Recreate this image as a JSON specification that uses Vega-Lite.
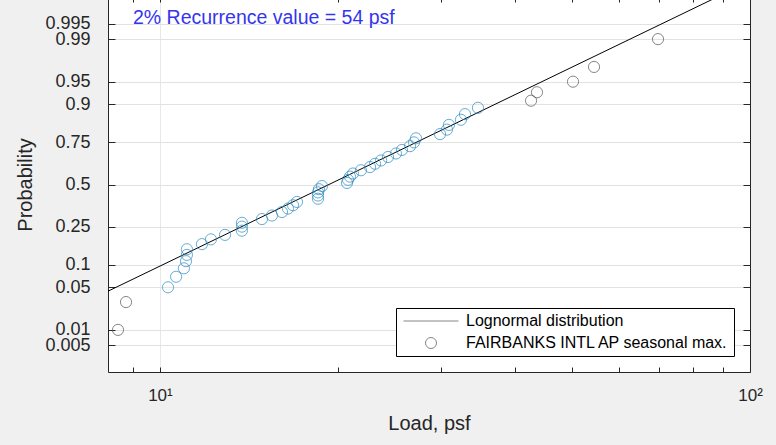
{
  "$schema": "https://vega.github.io/schema/vega-lite/v6.json",
  "width": 642,
  "height": 375,
  "autosize": "none",
  "padding": {"left": 108, "top": -3, "right": 26, "bottom": 73},
  "background": "#f0f0f0",
  "view": {"fill": "white", "stroke": null},
  "config": {"font": "Liberation Sans"},
  "datasets": {
    "fit": [
      {"load": 8.165, "z": -1.707},
      {"load": 100, "z": 3.253}
    ],
    "obs": [
      {"load": 8.49, "z": -2.326, "series": "FAIRBANKS INTL AP seasonal max."},
      {"load": 8.76, "z": -1.881, "series": "FAIRBANKS INTL AP seasonal max."},
      {"load": 10.32, "z": -1.645, "series": "FAIRBANKS INTL AP seasonal max."},
      {"load": 10.65, "z": -1.476, "series": "FAIRBANKS INTL AP seasonal max."},
      {"load": 10.98, "z": -1.341, "series": "FAIRBANKS INTL AP seasonal max."},
      {"load": 11.07, "z": -1.227, "series": "FAIRBANKS INTL AP seasonal max."},
      {"load": 11.11, "z": -1.126, "series": "FAIRBANKS INTL AP seasonal max."},
      {"load": 11.11, "z": -1.036, "series": "FAIRBANKS INTL AP seasonal max."},
      {"load": 11.78, "z": -0.954, "series": "FAIRBANKS INTL AP seasonal max."},
      {"load": 12.2, "z": -0.878, "series": "FAIRBANKS INTL AP seasonal max."},
      {"load": 12.89, "z": -0.806, "series": "FAIRBANKS INTL AP seasonal max."},
      {"load": 13.77, "z": -0.739, "series": "FAIRBANKS INTL AP seasonal max."},
      {"load": 13.77, "z": -0.674, "series": "FAIRBANKS INTL AP seasonal max."},
      {"load": 13.77, "z": -0.613, "series": "FAIRBANKS INTL AP seasonal max."},
      {"load": 14.89, "z": -0.553, "series": "FAIRBANKS INTL AP seasonal max."},
      {"load": 15.48, "z": -0.496, "series": "FAIRBANKS INTL AP seasonal max."},
      {"load": 16.1, "z": -0.44, "series": "FAIRBANKS INTL AP seasonal max."},
      {"load": 16.48, "z": -0.385, "series": "FAIRBANKS INTL AP seasonal max."},
      {"load": 16.81, "z": -0.332, "series": "FAIRBANKS INTL AP seasonal max."},
      {"load": 17.07, "z": -0.279, "series": "FAIRBANKS INTL AP seasonal max."},
      {"load": 18.53, "z": -0.228, "series": "FAIRBANKS INTL AP seasonal max."},
      {"load": 18.53, "z": -0.176, "series": "FAIRBANKS INTL AP seasonal max."},
      {"load": 18.53, "z": -0.126, "series": "FAIRBANKS INTL AP seasonal max."},
      {"load": 18.6, "z": -0.075, "series": "FAIRBANKS INTL AP seasonal max."},
      {"load": 18.82, "z": -0.025, "series": "FAIRBANKS INTL AP seasonal max."},
      {"load": 20.75, "z": 0.025, "series": "FAIRBANKS INTL AP seasonal max."},
      {"load": 20.83, "z": 0.075, "series": "FAIRBANKS INTL AP seasonal max."},
      {"load": 20.99, "z": 0.126, "series": "FAIRBANKS INTL AP seasonal max."},
      {"load": 21.24, "z": 0.176, "series": "FAIRBANKS INTL AP seasonal max."},
      {"load": 21.91, "z": 0.228, "series": "FAIRBANKS INTL AP seasonal max."},
      {"load": 22.7, "z": 0.279, "series": "FAIRBANKS INTL AP seasonal max."},
      {"load": 23.15, "z": 0.332, "series": "FAIRBANKS INTL AP seasonal max."},
      {"load": 23.7, "z": 0.385, "series": "FAIRBANKS INTL AP seasonal max."},
      {"load": 24.35, "z": 0.44, "series": "FAIRBANKS INTL AP seasonal max."},
      {"load": 25.12, "z": 0.496, "series": "FAIRBANKS INTL AP seasonal max."},
      {"load": 25.71, "z": 0.553, "series": "FAIRBANKS INTL AP seasonal max."},
      {"load": 26.53, "z": 0.613, "series": "FAIRBANKS INTL AP seasonal max."},
      {"load": 26.95, "z": 0.674, "series": "FAIRBANKS INTL AP seasonal max."},
      {"load": 27.16, "z": 0.739, "series": "FAIRBANKS INTL AP seasonal max."},
      {"load": 29.83, "z": 0.806, "series": "FAIRBANKS INTL AP seasonal max."},
      {"load": 30.65, "z": 0.878, "series": "FAIRBANKS INTL AP seasonal max."},
      {"load": 30.89, "z": 0.954, "series": "FAIRBANKS INTL AP seasonal max."},
      {"load": 32.37, "z": 1.036, "series": "FAIRBANKS INTL AP seasonal max."},
      {"load": 32.88, "z": 1.126, "series": "FAIRBANKS INTL AP seasonal max."},
      {"load": 34.59, "z": 1.227, "series": "FAIRBANKS INTL AP seasonal max."},
      {"load": 42.55, "z": 1.341, "series": "FAIRBANKS INTL AP seasonal max."},
      {"load": 43.55, "z": 1.476, "series": "FAIRBANKS INTL AP seasonal max."},
      {"load": 50.12, "z": 1.645, "series": "FAIRBANKS INTL AP seasonal max."},
      {"load": 54.41, "z": 1.881, "series": "FAIRBANKS INTL AP seasonal max."},
      {"load": 69.84, "z": 2.326, "series": "FAIRBANKS INTL AP seasonal max."}
    ],
    "note": [
      {"load": 9.0, "z": 2.576, "label": "2% Recurrence value = 54 psf"}
    ]
  },
  "layer": [
    {
      "data": {"name": "fit"},
      "mark": {"type": "line", "color": "black", "strokeWidth": 1, "clip": true},
      "encoding": {
        "x": {
          "field": "load", "type": "quantitative",
          "scale": {"type": "log", "domain": [8.165, 100], "nice": false},
          "axis": {
            "orient": "bottom",
            "values": [9, 10, 20, 30, 40, 50, 60, 70, 80, 90, 100],
            "labelExpr": "datum.value == 10 ? '10¹' : (datum.value == 100 ? '10²' : '')",
            "labelFontSize": 17, "labelColor": "#262626",
            "labelOverlap": false, "labelFlush": false,
            "labelPadding": 20,
            "tickSize": -5, "tickColor": "#262626",
            "domainColor": "#262626",
            "grid": true,
            "gridColor": {"condition": {"test": "datum.value == 10", "value": "#e8e8e8"}, "value": "rgba(0,0,0,0)"},
            "title": "Load, psf", "titleFontSize": 20, "titleFontWeight": "normal",
            "titleColor": "#262626", "titlePadding": 10
          }
        },
        "y": {
          "field": "z", "type": "quantitative",
          "scale": {"domain": [-3, 3], "nice": false, "zero": false},
          "axis": {
            "orient": "left",
            "values": [-2.5758, -2.3263, -1.6449, -1.2816, -0.6745, 0, 0.6745, 1.2816, 1.6449, 2.3263, 2.5758],
            "labelExpr": "datum.value < -2.5 ? '0.005' : datum.value < -2 ? '0.01' : datum.value < -1.5 ? '0.05' : datum.value < -1 ? '0.1' : datum.value < -0.5 ? '0.25' : datum.value < 0.5 ? '0.5' : datum.value < 1 ? '0.75' : datum.value < 1.5 ? '0.9' : datum.value < 2 ? '0.95' : datum.value < 2.5 ? '0.99' : '0.995'",
            "labelFontSize": 18, "labelColor": "#262626",
            "labelOverlap": false, "labelFlush": false,
            "labelPadding": 25,
            "tickSize": -7, "tickColor": "#262626",
            "domainColor": "#262626",
            "grid": true, "gridColor": "#e2e2e2",
            "title": "Probability", "titleFontSize": 20, "titleFontWeight": "normal",
            "titleColor": "#262626", "titlePadding": 9
          }
        }
      }
    },
    {
      "data": {"name": "obs"},
      "mark": {"type": "point", "filled": false, "size": 125, "strokeWidth": 1},
      "encoding": {
        "x": {
          "field": "load", "type": "quantitative",
          "axis": {
            "orient": "top", "values": [9, 10, 20, 30, 40, 50, 60, 70, 80, 90, 100],
            "labels": false, "domain": false, "grid": false,
            "tickSize": -5, "tickColor": "#262626", "title": null
          }
        },
        "y": {
          "field": "z", "type": "quantitative",
          "axis": {
            "orient": "right",
            "values": [-2.5758, -2.3263, -1.6449, -1.2816, -0.6745, 0, 0.6745, 1.2816, 1.6449, 2.3263, 2.5758],
            "labels": false, "grid": false,
            "tickSize": -7, "tickColor": "#262626", "domainColor": "#262626", "title": null
          }
        },
        "color": {
          "condition": {"test": "datum.load >= 10 && datum.load < 38", "value": "#2a8bc0"},
          "value": "#555555"
        },
        "shape": {
          "field": "series", "type": "nominal",
          "scale": {"domain": ["Lognormal distribution", "FAIRBANKS INTL AP seasonal max."], "range": ["M-5,0H5", "circle"]},
          "legend": {
            "title": null, "orient": "bottom-right", "offset": 16,
            "strokeColor": "black", "fillColor": "white", "padding": 5,
            "labelFontSize": 16, "labelColor": "black", "labelLimit": 400,
            "symbolSize": 121, "symbolOffset": 22, "labelOffset": 27, "rowPadding": 6,
            "symbolStrokeWidth": 1, "symbolFillColor": "transparent",
            "encode": {
              "symbols": {
                "stroke": {"value": {"expr": "datum.value === 'Lognormal distribution' ? 'black' : '#555555'"}}
              }
            }
          }
        }
      }
    },
    {
      "data": {"name": "note"},
      "mark": {"type": "text", "align": "left", "baseline": "alphabetic", "fontSize": 19.5, "color": "#3535ee"},
      "encoding": {
        "x": {"field": "load", "type": "quantitative", "axis": null},
        "y": {"field": "z", "type": "quantitative", "axis": null},
        "text": {"field": "label"}
      }
    }
  ],
  "resolve": {"axis": {"x": "independent", "y": "independent"}}
}
